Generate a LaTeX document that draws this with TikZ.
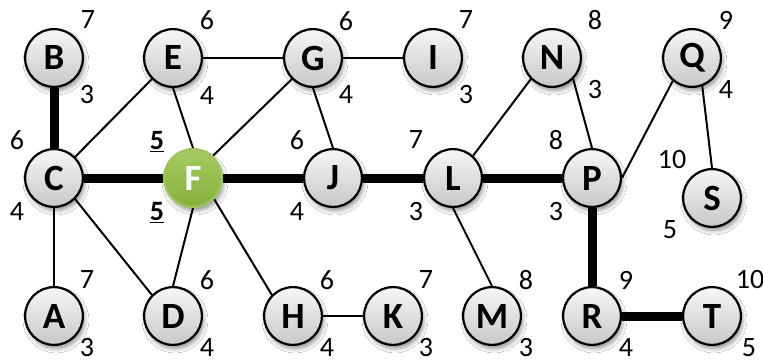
\documentclass[tikz,border=0pt]{standalone}
\usepackage{fontspec}
\setmainfont{Carlito}
\usetikzlibrary{shadows.blur,backgrounds}
\definecolor{fgreen}{RGB}{134,176,60}
\definecolor{fgreentop}{RGB}{166,202,96}
\definecolor{fborder}{RGB}{160,196,92}
\definecolor{vtop}{RGB}{246,246,246}
\definecolor{vbot}{RGB}{200,200,200}
\tikzset{
  vtx/.style={circle, draw=black, line width=2.2pt, minimum size=57.8pt, inner sep=0pt,
    top color=vtop, bottom color=vbot,
    blur shadow={shadow xshift=2pt, shadow yshift=-4pt, shadow blur radius=4pt, shadow opacity=40},
    font=\fontsize{37}{40}\selectfont\bfseries},
  srcvtx/.style={vtx, draw=fborder, top color=fgreentop, bottom color=fgreen, text=white},
  num/.style={font=\fontsize{28}{30}\selectfont, inner sep=0pt},
  thin/.style={line width=2pt},
  treeedge/.style={line width=9pt},
}
\begin{document}
\begin{tikzpicture}[x=1pt,y=-1pt]
\useasboundingbox (0,0) rectangle (763,362);
% vertices
\node[vtx] (B) at (54,58) {B};
\node[vtx] (E) at (173,58) {E};
\node[vtx] (G) at (313,58) {G};
\node[vtx] (I) at (433,58) {I};
\node[vtx] (N) at (552,58) {N};
\node[vtx] (Q) at (692,58) {Q};
\node[vtx] (C) at (54,178) {C};
\node[srcvtx] (F) at (193,178) {F};
\node[vtx] (J) at (333,178) {J};
\node[vtx] (L) at (453,178) {L};
\node[vtx] (P) at (592,178) {P};
\node[vtx] (S) at (712,198) {S};
\node[vtx] (A) at (54,316) {A};
\node[vtx] (D) at (173,316) {D};
\node[vtx] (H) at (293,316) {H};
\node[vtx] (K) at (393,316) {K};
\node[vtx] (M) at (492,316) {M};
\node[vtx] (R) at (592,316) {R};
\node[vtx] (T) at (712,316) {T};
% edges
\begin{scope}[on background layer]
\fill[white] (0,0) rectangle (763,362);
\draw[treeedge] (B) -- (C);
\draw[treeedge] (C) -- (F);
\draw[treeedge] (F) -- (J);
\draw[treeedge] (J) -- (L);
\draw[treeedge] (L) -- (P);
\draw[treeedge] (P) -- (R);
\draw[treeedge] (R) -- (T);
\draw[thin] (C.45) -- (E.-135);
\draw[thin] (E.south) -- (F.north);
\draw[thin] (E.east) -- (G.west);
\draw[thin] (G.east) -- (I.west);
\draw[thin] (G.-135) -- (F.48);
\draw[thin] (G.south) -- (J.north);
\draw[thin] (L.48) -- (N.-135);
\draw[thin] (N.-45) -- (P.north);
\draw[thin] (P.east) -- (Q.-130);
\draw[thin] (Q.-70) -- (S.north);
\draw[thin] (L.south) -- (M.north);
\draw[thin] (C.south) -- (A.north);
\draw[thin] (C.-45) -- (D.135);
\draw[thin] (F.south) -- (D.north);
\draw[thin] (F.-45) -- (H.135);
\draw[thin] (H.east) -- (K.west);
\end{scope}
% numbers
\node[num] (nB1) at (88,20) {7};
\node[num] (nB2) at (87,95) {3};
\node[num] (nE1) at (207,20) {6};
\node[num] (nE2) at (207,96) {4};
\node[num] (nG1) at (346,21) {6};
\node[num] (nG2) at (346,95) {4};
\node[num] (nI1) at (466,20) {7};
\node[num] (nI2) at (466,95) {3};
\node[num] (nN1) at (595,20) {8};
\node[num] (nN2) at (595,90) {3};
\node[num] (nQ1) at (726,20) {9};
\node[num] (nQ2) at (726,90) {4};
\node[num] (nC1) at (17,140) {6};
\node[num] (nC2) at (17,212) {4};
\node[num, anchor=north] (nF1) at (157,131) {\underline{\textbf{5}}};
\node[num, anchor=north] (nF2) at (157,202) {\underline{\textbf{5}}};
\node[num] (nJ1) at (297,140) {6};
\node[num] (nJ2) at (297,212) {4};
\node[num] (nL1) at (416,140) {7};
\node[num] (nL2) at (416,212) {3};
\node[num] (nP1) at (556,140) {8};
\node[num] (nP2) at (556,212) {3};
\node[num] (nS1) at (672,160) {10};
\node[num] (nS2) at (670,230) {5};
\node[num] (nA1) at (87,280) {7};
\node[num] (nA2) at (87,348) {3};
\node[num] (nD1) at (207,280) {6};
\node[num] (nD2) at (207,348) {4};
\node[num] (nH1) at (327,280) {6};
\node[num] (nH2) at (327,348) {4};
\node[num] (nK1) at (426,280) {7};
\node[num] (nK2) at (426,348) {3};
\node[num] (nM1) at (526,280) {8};
\node[num] (nM2) at (526,348) {3};
\node[num] (nR1) at (626,280) {9};
\node[num] (nR2) at (626,348) {4};
\node[num] (nT1) at (750,280) {10};
\node[num] (nT2) at (749,348) {5};
\end{tikzpicture}
\end{document}
